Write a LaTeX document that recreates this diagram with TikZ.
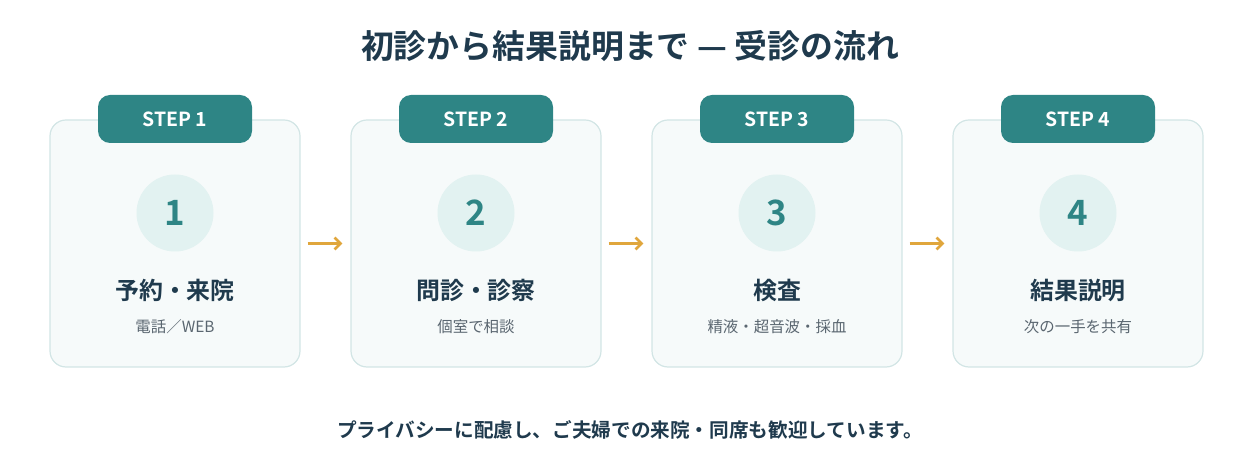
\documentclass[tikz,border=0pt]{standalone}
\usepackage{fontspec}
\setmainfont{Noto Sans CJK JP}
\newfontfamily\jpb{Noto Sans CJK JP Bold}
\usetikzlibrary{arrows.meta,positioning}
\definecolor{teal}{HTML}{2E8585}
\definecolor{navy}{HTML}{1F3A4D}
\definecolor{cardfill}{HTML}{F6FAFA}
\definecolor{cardline}{HTML}{D2E5E5}
\definecolor{circ}{HTML}{E2F2F1}
\definecolor{arr}{HTML}{E0A63C}
\definecolor{sub}{HTML}{5A6670}
\begin{document}
\begin{tikzpicture}[x=1bp,y=-1bp,
 card/.style={draw=cardline,line width=1.2bp,fill=cardfill,rounded corners=16bp,minimum width=250bp,minimum height=247bp,inner sep=0},
 tab/.style={fill=teal,rounded corners=12bp,minimum width=154bp,minimum height=48bp,text=white,font=\jpb\fontsize{19.5}{19.5}\selectfont,inner sep=0},
 num/.style={circle,fill=circ,minimum size=77bp,text=teal,font=\jpb\fontsize{35}{35}\selectfont,inner sep=0},
 ttl/.style={text=navy,font=\jpb\fontsize{24}{24}\selectfont},
 sb/.style={text=sub,font=\fontsize{15.5}{15.5}\selectfont},
 ar/.style={draw=arr,line width=2.6bp,-{Straight Barb[length=6bp,width=12bp]},shorten <=7bp,shorten >=8bp}]
\useasboundingbox (0,0) rectangle (1260,462);
\node[text=navy,font=\jpb\fontsize{33}{33}\selectfont] (title) at (630,46) {初診から結果説明まで — 受診の流れ};
\foreach \i/\x/\t/\s in {1/175/予約・来院/電話／WEB,2/476/問診・診察/個室で相談,3/777/検査/精液・超音波・採血,4/1078/結果説明/次の一手を共有}{
 \node[card] (c\i) at (\x,243.5) {};
 \node[tab] (t\i) at (\x,119) {STEP \i};
 \node[num] (n\i) at (\x,213) {\i};
 \node[ttl] (h\i) at (\x,290) {\t};
 \node[sb] (s\i) at (\x,327) {\s};
}
\draw[ar] (c1.east) -- (c2.west);
\draw[ar] (c2.east) -- (c3.west);
\draw[ar] (c3.east) -- (c4.west);
\node[text=navy,font=\jpb\fontsize{19.7}{19.7}\selectfont] (foot) at (630,430) {プライバシーに配慮し、ご夫婦での来院・同席も歓迎しています。};
\end{tikzpicture}
\end{document}
